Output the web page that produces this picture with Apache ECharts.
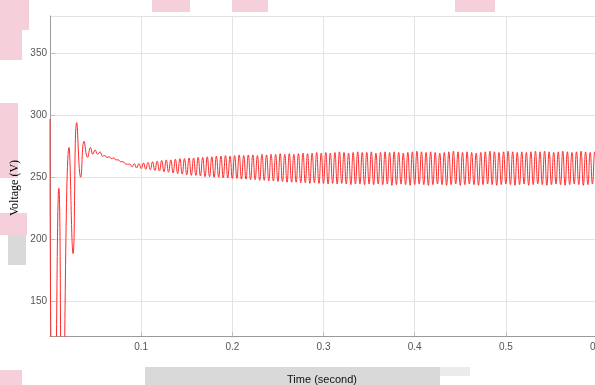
<!DOCTYPE html>
<html>
<head>
<meta charset="utf-8">
<script src="https://cdn.jsdelivr.net/npm/echarts@6/dist/echarts.min.js"></script>
<style>
  html, body { margin: 0; padding: 0; background: #fff; }
  #main { width: 595px; height: 385px; }
</style>
</head>
<body>
<div id="main"></div>
<script>
// start-up transient, read point by point (time in s, voltage in V)
var transientTime = [0, 0.0006, 0.0045, 0.0097, 0.0135, 0.0209, 0.0253, 0.0293, 0.0337, 0.0374,
  0.0412, 0.0445, 0.0469, 0.0495, 0.0522, 0.055, 0.0575, 0.06, 0.0625, 0.065,
  0.0675, 0.07, 0.0725, 0.075, 0.0775, 0.08, 0.0825, 0.085];
var transientVolt = [297, 150, 40, 241, 40, 274, 188.5, 294, 250, 279,
  266, 274, 268.5, 272, 268.5, 270.5, 267, 267.5, 266, 266.5,
  265, 265.5, 264, 264, 262.5, 262.5, 261, 260.5];

// steady ripple: one peak and one trough per period
var rippleStart = 0.0875;
var ripplePeriod = 0.005;
var ripplePeaks = [
  260.5, 261, 261, 261.5, 262, 262.5, 263, 263.5, 264, 264,
  264.5, 265, 265, 265.5, 265.5, 266, 266, 266.5, 266.5, 267,
  267, 267.5, 267, 267.5, 268, 267.5, 268, 268, 267.5, 268.5,
  268, 268.5, 268.5, 269, 268.5, 269, 268.5, 269, 269.5, 269,
  269.5, 270, 269.5, 270, 269.5, 270, 270.5, 270, 269.5, 270,
  270.5, 270, 270, 270.5, 269.5, 270, 270.5, 270, 270.5, 270,
  269.5, 270, 270.5, 271, 270.5, 270, 270.5, 270, 269.5, 270,
  270.5, 271, 270.5, 270, 270.5, 270, 269.5, 270, 270.5, 271,
  270.5, 270, 270.5, 271, 270.5, 270, 270.5, 270, 270.5, 271,
  270.5, 271, 270.5, 270, 270.5, 271, 270.5, 270, 270.5, 271,
  270.5, 270, 270.5
];
var rippleTroughs = [
  258.5, 257.5, 257, 256.5, 256, 255.5, 255, 254.5, 254, 253.5,
  253, 252.5, 252, 251.5, 251.5, 251, 250.5, 250.5, 250, 250,
  249.5, 249.5, 249, 249, 248.5, 248.5, 248, 248, 247.5, 247.5,
  247, 247, 246.5, 246.5, 246, 246, 246, 245.5, 245.5, 245,
  245.5, 245, 245, 244.5, 245, 244.5, 245, 244.5, 244, 244.5,
  244.5, 244, 244.5, 244, 244.5, 244, 244.5, 243.5, 244, 244.5,
  244, 243.5, 244, 244.5, 244, 243.5, 244, 244.5, 244, 243.5,
  244, 244.5, 243.5, 244, 244.5, 244, 243.5, 244, 244.5, 244,
  243.5, 244, 244.5, 244, 243.5, 244, 244.5, 243.5, 244, 244.5,
  244, 243.5, 244, 244.5, 244, 243.5, 244, 244.5, 244, 243.5,
  244, 244.5, 244
];

var xTicks = [0.1, 0.2, 0.3, 0.4, 0.5, 0.6];

var voltage = [];
for (var i = 0; i < transientTime.length; i++) {
  voltage.push([transientTime[i], transientVolt[i]]);
}
for (var k = 0; k < ripplePeaks.length; k++) {
  var t = rippleStart + k * ripplePeriod;
  voltage.push([+t.toFixed(5), ripplePeaks[k]]);
  voltage.push([+(t + ripplePeriod / 2).toFixed(5), rippleTroughs[k]]);
}

var chartInstance = echarts.init(document.getElementById('main'));
var pink = '#f5d0da';
var grey = '#d9d9d9';
var option = {
  animation: false,
  backgroundColor: '#fff',
  grid: {
    left: 50,
    top: 16,
    right: -2,
    bottom: 49,
    outerBoundsMode: 'none',
    containLabel: false
  },
  graphic: [
    // faded watermark blocks around the figure
    { type: 'rect', z: -10, shape: { x: 0, y: 0, width: 22, height: 60 }, style: { fill: pink } },
    { type: 'rect', z: -10, shape: { x: 22, y: 0, width: 7, height: 30 }, style: { fill: pink } },
    { type: 'rect', z: -10, shape: { x: 0, y: 103, width: 18, height: 75 }, style: { fill: pink } },
    { type: 'rect', z: -10, shape: { x: 0, y: 213, width: 27, height: 22 }, style: { fill: pink } },
    { type: 'rect', z: -10, shape: { x: 8, y: 235, width: 18, height: 30 }, style: { fill: grey } },
    { type: 'rect', z: -10, shape: { x: 0, y: 370, width: 22, height: 15 }, style: { fill: pink } },
    { type: 'rect', z: -10, shape: { x: 152, y: 0, width: 38, height: 12 }, style: { fill: pink } },
    { type: 'rect', z: -10, shape: { x: 232, y: 0, width: 36, height: 12 }, style: { fill: pink } },
    { type: 'rect', z: -10, shape: { x: 455, y: 0, width: 40, height: 12 }, style: { fill: pink } },
    { type: 'rect', z: -10, shape: { x: 145, y: 367, width: 295, height: 18 }, style: { fill: grey } },
    { type: 'rect', z: -10, shape: { x: 440, y: 367, width: 30, height: 9 }, style: { fill: '#ebebeb' } },
    {
      type: 'text',
      rotation: Math.PI / 2,
      x: 15, y: 188,
      style: {
        text: 'Voltage (V)', fill: '#000',
        font: '12px "Liberation Serif", serif',
        textAlign: 'center', textVerticalAlign: 'middle'
      }
    },
    {
      type: 'text',
      x: 322, y: 380,
      style: {
        text: 'Time (second)', fill: '#111',
        font: '11px "Liberation Sans", Arial, sans-serif',
        textAlign: 'center', textVerticalAlign: 'middle'
      }
    }
  ],
  xAxis: {
    type: 'value',
    min: 0,
    max: 0.6,
    interval: 0.1,
    axisLine: { show: true, lineStyle: { color: '#9a9a9a', width: 1 } },
    axisTick: { show: true, inside: true, length: 4, lineStyle: { color: '#bdbdbd' } },
    axisLabel: {
      showMinLabel: false,
      margin: 6,
      color: '#555',
      fontSize: 10,
      fontFamily: 'Liberation Sans, Arial, sans-serif',
      formatter: function (v) {
        for (var j = 0; j < xTicks.length; j++) {
          if (Math.abs(v - xTicks[j]) < 1e-6) return String(xTicks[j]);
        }
        return '';
      }
    },
    splitLine: { show: true, lineStyle: { color: '#e3e3e3', width: 1 } }
  },
  yAxis: {
    type: 'value',
    min: 122,
    max: 380,
    splitNumber: 5,
    axisLine: { show: true, lineStyle: { color: '#9a9a9a', width: 1 } },
    axisTick: { show: true, inside: true, length: 5, lineStyle: { color: '#bdbdbd' } },
    axisLabel: {
      showMinLabel: false,
      showMaxLabel: false,
      margin: 3,
      color: '#555',
      fontSize: 10,
      fontFamily: 'Liberation Sans, Arial, sans-serif'
    },
    splitLine: { show: true, lineStyle: { color: '#e3e3e3', width: 1 } }
  },
  series: [
    {
      name: 'Voltage',
      type: 'line',
      data: voltage,
      smooth: 0.5,
      showSymbol: false,
      clip: true,
      lineStyle: { color: '#ff2a2a', width: 1 }
    }
  ]
};
chartInstance.setOption(option);
</script>
</body>
</html>
